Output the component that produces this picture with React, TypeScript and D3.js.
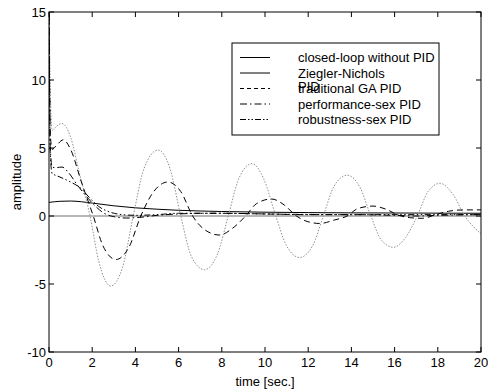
import React from "react";
import * as d3 from "d3";

const xTicks = [0, 2, 4, 6, 8, 10, 12, 14, 16, 18, 20];
const yTicks = [-10, -5, 0, 5, 10, 15];

const closedLoopT = [0, 0.5, 1, 1.5, 2, 3, 4, 5, 6, 8, 10, 12, 14, 16, 18, 20];
const closedLoopV = [1.0, 1.08, 1.1, 1.05, 0.95, 0.75, 0.6, 0.5, 0.42, 0.33, 0.28, 0.25, 0.23, 0.22, 0.21, 0.2];

const znT = [0, 0.08, 0.15, 0.28, 0.6, 1.0, 1.4, 1.9, 2.3, 2.85, 3.4, 3.9, 4.4, 5.05, 5.6, 6.1, 6.6, 7.2, 7.8, 8.3, 8.8, 9.4, 9.95, 10.5, 11.0, 11.6, 12.2, 12.7, 13.2, 13.8, 14.4, 14.9, 15.4, 15.95, 16.5, 17.05, 17.55, 18.1, 18.7, 19.25, 20];
const znV = [16, 8, 6.3, 6.5, 6.8, 5.8, 3.2, 0, -3.3, -5.15, -3.8, 0, 3.5, 4.85, 3.5, 0, -3, -3.95, -2.8, 0, 2.8, 3.85, 2.7, 0, -2.2, -3.05, -2.2, 0, 2.2, 3.0, 2.1, 0, -1.8, -2.3, -1.6, 0, 1.8, 2.4, 1.6, 0, -1.3];

const gaT = [0, 0.06, 0.15, 0.35, 0.66, 1.0, 1.5, 2.05, 2.5, 3.1, 3.7, 4.25, 4.85, 5.5, 6.1, 6.65, 7.2, 7.9, 8.5, 9.1, 9.6, 10.3, 10.9, 11.45, 11.95, 12.55, 13.2, 13.8, 14.3, 15.0, 15.6, 16.2, 16.7, 17.3, 17.9, 18.5, 19.2, 20];
const gaV = [16, 6, 4.9, 5.2, 5.6, 4.9, 2.5, 0, -2.2, -3.2, -2.3, 0, 1.8, 2.5, 1.8, 0, -1.0, -1.4, -0.9, 0, 0.9, 1.25, 0.8, 0, -0.4, -0.55, -0.3, 0, 0.55, 0.73, 0.5, 0.05, -0.12, -0.17, 0.1, 0.35, 0.45, 0.45];

const perfT = [0, 0.06, 0.15, 0.3, 0.6, 0.9, 1.3, 1.7, 2.1, 2.5, 3.0, 3.6, 4.2, 5, 6, 7, 8, 10, 12, 14, 16, 17, 18, 20];
const perfV = [16, 5, 3.6, 3.55, 3.6, 3.2, 2.3, 1.5, 0.8, 0.25, -0.05, -0.15, -0.1, 0.05, 0.15, 0.2, 0.2, 0.15, 0.1, 0.1, 0.05, 0.0, 0.05, 0.1];

const robT = [0, 0.06, 0.15, 0.3, 0.6, 1.0, 1.5, 1.9, 2.3, 2.8, 3.4, 4, 5, 6, 8, 10, 14, 20];
const robV = [16, 4.5, 3.1, 3.0, 2.8, 2.5, 2.0, 1.3, 0.7, 0.3, 0.1, 0.05, 0.1, 0.2, 0.2, 0.15, 0.1, 0.1];

const legendLabels = [
  "closed-loop without PID",
  "Ziegler-Nichols",
  "traditional GA PID",
  "performance-sex PID",
  "robustness-sex PID",
];

const W = 488;
const H = 392;
const L = 49, R = 481, T = 12, B = 352;

export default function App() {
  const x = d3.scaleLinear().domain([0, 20]).range([L, R]);
  const y = d3.scaleLinear().domain([-10, 15]).range([B, T]);
  const line = d3
    .line<[number, number]>()
    .x((d) => x(d[0]))
    .y((d) => y(d[1]))
    .curve(d3.curveMonotoneX);
  const mk = (ts: number[], vs: number[]) => line(ts.map((t, i) => [t, vs[i]] as [number, number])) || "";

  const series = [
    { d: mk(closedLoopT, closedLoopV), stroke: "#000", dash: "none", w: 1 },
    { d: mk(znT, znV), stroke: "#909090", dash: "1.5,1.5", w: 1 },
    { d: mk(gaT, gaV), stroke: "#000", dash: "6,4", w: 1 },
    { d: mk(perfT, perfV), stroke: "#000", dash: "7,3,1.5,3", w: 1 },
    { d: mk(robT, robV), stroke: "#000", dash: "6,2.5,1.5,2.5,1.5,2.5", w: 1 },
  ];
  const legendDash = ["none", "none", "4,3", "7,3,1.5,3", "6,2,1.5,2,1.5,2"];
  const font = "'Liberation Sans', Arial, sans-serif";
  const fs = 13;
  const legX = 232, legY = 43, legW = 207, legH = 92;
  const rowY = [57.5, 73, 88.5, 104, 119.5];

  return (
    <svg width={W} height={H} style={{ position: "absolute", left: 0, top: 0, background: "#fff" }} fontFamily={font}>
      <rect x={0} y={0} width={W} height={H} fill="#fff" />
      <defs>
        <clipPath id="plotclip">
          <rect x={L} y={T} width={R - L} height={B - T} />
        </clipPath>
      </defs>
      <line x1={L} x2={R} y1={y(0)} y2={y(0)} stroke="#707070" strokeWidth={1.2} />
      <g clipPath="url(#plotclip)" fill="none">
        {series.map((s, i) => (
          <path key={i} d={s.d} stroke={s.stroke} strokeDasharray={s.dash} strokeWidth={s.w} />
        ))}
      </g>
      <rect x={L} y={T} width={R - L} height={B - T} fill="none" stroke="#000" strokeWidth={1} />
      {xTicks.map((t) => (
        <g key={"x" + t}>
          <line x1={x(t)} x2={x(t)} y1={B} y2={B - 5} stroke="#000" />
          <line x1={x(t)} x2={x(t)} y1={T} y2={T + 5} stroke="#000" />
          <text x={x(t)} y={367} fontSize={fs} textAnchor="middle" fill="#000">{t}</text>
        </g>
      ))}
      {yTicks.map((v) => (
        <g key={"y" + v}>
          <line x1={L} x2={L + 5} y1={y(v)} y2={y(v)} stroke="#000" />
          <line x1={R} x2={R - 5} y1={y(v)} y2={y(v)} stroke="#000" />
          <text x={46} y={y(v) + 4.5} fontSize={fs} textAnchor="end" fill="#000">{v}</text>
        </g>
      ))}
      <text x={265} y={386} fontSize={fs} textAnchor="middle" fill="#000">time [sec.]</text>
      <text transform={`translate(21,${(T + B) / 2}) rotate(-90)`} fontSize={fs} textAnchor="middle" fill="#000">amplitude</text>
      <rect x={legX} y={legY} width={legW} height={legH} fill="#fff" stroke="#000" strokeWidth={1} />
      {legendLabels.map((lab, i) => (
        <g key={lab}>
          <line x1={240} x2={270} y1={rowY[i]} y2={rowY[i]} stroke="#000" strokeDasharray={legendDash[i]} />
          <text x={298} y={rowY[i] + 4.5} fontSize={fs} fill="#000">{lab}</text>
        </g>
      ))}
      <text x={298} y={rowY[1] + 4.5 + 13.5} fontSize={fs} fill="#000">PID</text>
    </svg>
  );
}
